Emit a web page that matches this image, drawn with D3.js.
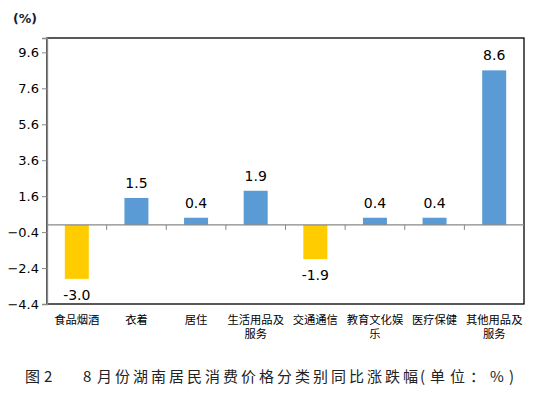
<!DOCTYPE html>
<html><head><meta charset="utf-8">
<script src="https://cdn.jsdelivr.net/npm/d3@7"></script>
<style>body{margin:0;background:#fff}svg{display:block}</style>
</head><body>
<svg id="c" width="543" height="393"></svg>
<script>
const categories = ["食品烟酒","衣着","居住","生活用品及服务","交通通信","教育文化娱乐","医疗保健","其他用品及服务"];
const labelLines = [["食品烟酒"],["衣着"],["居住"],["生活用品及","服务"],["交通通信"],["教育文化娱","乐"],["医疗保健"],["其他用品及","服务"]];
const values = [-3.0, 1.5, 0.4, 1.9, -1.9, 0.4, 0.4, 8.6];
const yTicks = [9.6, 7.6, 5.6, 3.6, 1.6, -0.4, -2.4, -4.4];
const captionParts = [
  {t: "图", x: 25}, {t: "2", x: 44}, {t: "8", x: 83},
  {t: "月份湖南居民消费价格分类别同比涨跌幅", x: 97, len: 321},
  {t: "(单位：%)", x: 420, len: 94}
];

const svg = d3.select("#c");
const L = 47, R = 524, T = 38, B = 304;
const x = d3.scaleBand().domain(categories).range([L, R]).paddingInner(0).paddingOuter(0);
const y = d3.scaleLinear().domain([-4.4, 10.4]).range([B, T]);
const barW = 24;

// frame
svg.append("rect").attr("x", L).attr("y", T).attr("width", R - L).attr("height", B - T)
  .attr("fill", "none").attr("stroke", "#000").attr("stroke-width", 1.3);

// y axis
const yAxis = svg.append("g").attr("transform", `translate(${L},0)`)
  .call(d3.axisLeft(y).tickValues(yTicks).tickFormat(d3.format(".1f")).tickSize(5).tickPadding(3));
yAxis.select(".domain").attr("stroke", "#888").attr("stroke-width", 1.3);
yAxis.selectAll(".tick line").attr("stroke", "#888");
yAxis.selectAll("text").attr("font-family", "DejaVu Sans").attr("font-size", 13).attr("fill", "#000");

// bars
svg.append("g").selectAll("rect").data(values).join("rect")
  .attr("x", (d, i) => x(categories[i]) + x.bandwidth() / 2 - barW / 2)
  .attr("y", d => d >= 0 ? y(d) : y(0))
  .attr("width", barW)
  .attr("height", d => Math.abs(y(d) - y(0)))
  .attr("fill", d => d >= 0 ? "#5B9BD5" : "#FFCC00");

// zero axis with category ticks
const xAxis = svg.append("g").attr("transform", `translate(0,${y(0)})`);
xAxis.append("line").attr("x1", L).attr("x2", R).attr("y1", 0).attr("y2", 0)
  .attr("stroke", "#888").attr("stroke-width", 1.3);
xAxis.selectAll("line.tk").data(categories.slice(1)).join("line").attr("class", "tk")
  .attr("x1", d => x(d)).attr("x2", d => x(d)).attr("y1", 0).attr("y2", 5)
  .attr("stroke", "#888");

// value labels
svg.append("g").selectAll("text").data(values).join("text")
  .attr("x", (d, i) => x(categories[i]) + x.bandwidth() / 2)
  .attr("y", d => d >= 0 ? y(d) - 10 : y(d) + 21)
  .attr("text-anchor", "middle")
  .attr("font-family", "DejaVu Sans").attr("font-size", 14).attr("fill", "#000")
  .text(d => d.toFixed(1));

// category labels (one text per line)
const lines = [];
categories.forEach((c, i) => labelLines[i].forEach((ln, j) => lines.push({c, ln, j})));
svg.append("g").selectAll("text").data(lines).join("text")
  .attr("x", d => x(d.c) + x.bandwidth() / 2)
  .attr("y", d => 324 + d.j * 14)
  .attr("text-anchor", "middle")
  .attr("font-family", "'Liberation Serif', 'Noto Sans CJK SC'").attr("font-size", 11.3).attr("fill", "#000")
  .text(d => d.ln);

// unit
svg.append("text").attr("x", 13).attr("y", 23).attr("font-family", "DejaVu Sans")
  .attr("font-weight", "bold").attr("font-size", 12.5).attr("fill", "#1a1a2e").text("(%)");

// caption
svg.append("g").selectAll("text").data(captionParts).join("text")
  .attr("x", d => d.x).attr("y", 382)
  .attr("font-family", "Noto Sans CJK SC").attr("font-size", 15).attr("fill", "#222")
  .each(function(d) { if (d.len) d3.select(this).attr("textLength", d.len).attr("lengthAdjust", "spacing"); })
  .text(d => d.t);
</script>
</body></html>
